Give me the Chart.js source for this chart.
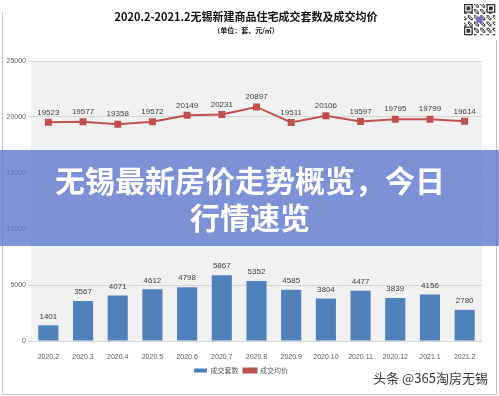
<!DOCTYPE html>
<html>
<head>
<meta charset="utf-8">
<script src="https://cdn.jsdelivr.net/npm/chart.js@4.4.0/dist/chart.umd.min.js"></script>
<style>
html, body { margin: 0; padding: 0; background: #fff; }
</style>
</head>
<body>
<canvas id="wuxiChart" width="499" height="396"></canvas>
<script>
var months = ["2020.2", "2020.3", "2020.4", "2020.5", "2020.6", "2020.7", "2020.8",
  "2020.9", "2020.10", "2020.11", "2020.12", "2021.1", "2021.2"];
var dealCount = [1401, 3567, 4071, 4612, 4798, 5867, 5352, 4585, 3804, 4477, 3839, 4156, 2780];
var avgPrice = [19523, 19577, 19358, 19572, 20149, 20231, 20897, 19511, 20106, 19597, 19795, 19799, 19614];
var seriesNames = ["成交套数", "成交均价"];

var cjk = '"Noto Sans CJK SC", sans-serif';
var num = '"Liberation Sans", Arial, sans-serif';

// background, labels, title and the overlay banner
var decor = {
  id: 'decor',
  beforeDraw: function(chart) {
    var c = chart.ctx, a = chart.chartArea;
    c.save();
    c.fillStyle = '#fff';
    c.fillRect(0, 0, chart.width, chart.height);
    c.fillStyle = '#f1f1f1';
    c.fillRect(a.left, a.top, a.right - a.left, a.bottom - a.top);
    c.strokeStyle = '#c4c4c4';
    c.lineWidth = 1;
    c.beginPath();
    c.moveTo(2.5, 12); c.lineTo(2.5, 394.5); c.lineTo(496.5, 394.5); c.lineTo(496.5, 40);
    c.stroke();
    c.restore();
  },
  afterDatasetsDraw: function(chart) {
    var c = chart.ctx;
    c.save();
    c.font = '8px ' + num;
    c.fillStyle = '#404040';
    c.textAlign = 'center';
    c.textBaseline = 'middle';
    chart.data.datasets.forEach(function(ds, i) {
      var meta = chart.getDatasetMeta(i);
      var off = ds.type === 'line' ? 10 : 9;
      meta.data.forEach(function(el, j) {
        c.fillText(ds.data[j], el.x, el.y - off);
      });
    });
    c.restore();
  },
  afterDraw: function(chart) {
    var c = chart.ctx;
    c.save();
    c.textAlign = 'center';
    c.textBaseline = 'middle';
    c.fillStyle = '#111';
    c.font = 'bold 11px ' + cjk;
    c.fillText('2020.2-2021.2无锡新建商品住宅成交套数及成交均价', 246, 17);
    c.font = 'bold 7px ' + cjk;
    c.fillText('（单位：套、元/㎡）', 246, 30);

    // little QR block in the corner
    var qx = 464, qy = 4, m = 1.25, n = 25;
    c.fillStyle = '#fff';
    c.fillRect(qx, qy, n * m, n * m);
    c.fillStyle = '#333';
    for (var i = 0; i < n; i++) {
      for (var j = 0; j < n; j++) {
        if (((i * 7 + j * 13 + i * j) % 5) < 2) c.fillRect(qx + i * m, qy + j * m, m, m);
      }
    }
    [[0, 0], [n - 7, 0], [0, n - 7]].forEach(function(p) {
      var x = qx + p[0] * m, y = qy + p[1] * m;
      c.fillStyle = '#333'; c.fillRect(x, y, 7 * m, 7 * m);
      c.fillStyle = '#fff'; c.fillRect(x + m, y + m, 5 * m, 5 * m);
      c.fillStyle = '#333'; c.fillRect(x + 2 * m, y + 2 * m, 3 * m, 3 * m);
    });
    c.fillStyle = '#7a72c4';
    c.fillRect(qx + 10 * m, qy + 10 * m, 5 * m, 5 * m);

    // banner
    c.fillStyle = 'rgba(92, 118, 206, 0.78)';
    c.fillRect(0, 150, chart.width, 96);
    c.fillStyle = '#fff';
    c.font = 'bold 30px ' + cjk;
    c.fillText('无锡最新房价走势概览，今日', 250, 181);
    c.fillText('行情速览', 250, 218);

    // watermark
    c.textAlign = 'right';
    c.font = '13px ' + cjk;
    c.lineWidth = 3;
    c.strokeStyle = 'rgba(255,255,255,0.9)';
    c.strokeText('头条 @365淘房无锡', 488, 378);
    c.fillStyle = '#3a3a3a';
    c.fillText('头条 @365淘房无锡', 488, 378);
    c.restore();
  }
};

var ctx = document.getElementById('wuxiChart').getContext('2d');
var wuxiChart = new Chart(ctx, {
  type: 'bar',
  data: {
    labels: months,
    datasets: [
      {
        type: 'bar',
        label: seriesNames[0],
        data: dealCount,
        backgroundColor: '#4f81bd',
        barPercentage: 0.58,
        categoryPercentage: 1,
        order: 2
      },
      {
        type: 'line',
        label: seriesNames[1],
        data: avgPrice,
        borderColor: '#c0504d',
        backgroundColor: '#c0504d',
        borderWidth: 2,
        tension: 0,
        pointStyle: 'rect',
        pointRadius: 3.5,
        pointBackgroundColor: '#c0504d',
        pointBorderColor: '#c0504d',
        order: 1
      }
    ]
  },
  options: {
    responsive: false,
    animation: false,
    layout: { padding: { top: 61, right: 17, bottom: 12, left: 0 } },
    plugins: {
      legend: {
        position: 'bottom',
        labels: {
          font: { size: 7, family: cjk },
          color: '#595959',
          boxWidth: 13,
          boxHeight: 4,
          padding: 5,
          sort: function(a, b) { return a.datasetIndex - b.datasetIndex; }
        }
      },
      tooltip: { enabled: false }
    },
    scales: {
      x: {
        grid: { display: false },
        border: { display: false },
        ticks: { font: { size: 7, family: num }, color: '#595959', maxRotation: 0, autoSkip: false, padding: 4 },
        afterFit: function(s) { s.height = 21; }
      },
      y: {
        min: 0,
        max: 25000,
        grid: { color: '#d4d4d4', tickLength: 3 },
        border: { display: false },
        ticks: { stepSize: 5000, font: { size: 7, family: num }, color: '#595959', padding: 2,
          callback: function(v) { return v; } },
        afterFit: function(s) { s.width = 31; }
      }
    }
  },
  plugins: [decor]
});
</script>
</body>
</html>
